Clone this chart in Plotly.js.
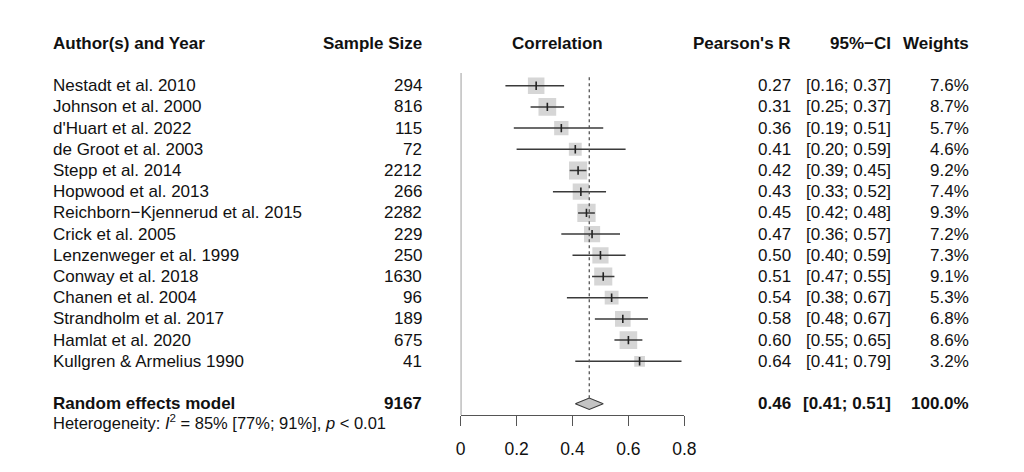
<!DOCTYPE html>
<html>
<head>
<meta charset="utf-8">
<script src="https://cdn.plot.ly/plotly-3.0.1.min.js"></script>
<style>html,body{margin:0;padding:0;background:#fff;} #chart{width:1024px;height:472px;}</style>
</head>
<body>
<div id="chart"></div>
<script>
// ---- data ----
const authors = ["Nestadt et al. 2010","Johnson et al. 2000","d'Huart et al. 2022","de Groot et al. 2003","Stepp et al. 2014","Hopwood et al. 2013","Reichborn\u2212Kjennerud et al. 2015","Crick et al. 2005","Lenzenweger et al. 1999","Conway et al. 2018","Chanen et al. 2004","Strandholm et al. 2017","Hamlat et al. 2020","Kullgren & Armelius 1990"];
const sampleSize = [294, 816, 115, 72, 2212, 266, 2282, 229, 250, 1630, 96, 189, 675, 41];
const pearsonR = [0.27, 0.31, 0.36, 0.41, 0.42, 0.43, 0.45, 0.47, 0.50, 0.51, 0.54, 0.58, 0.60, 0.64];
const ciLower = [0.16, 0.25, 0.19, 0.20, 0.39, 0.33, 0.42, 0.36, 0.40, 0.47, 0.38, 0.48, 0.55, 0.41];
const ciUpper = [0.37, 0.37, 0.51, 0.59, 0.45, 0.52, 0.48, 0.57, 0.59, 0.55, 0.67, 0.67, 0.65, 0.79];
const weights = [7.6, 8.7, 5.7, 4.6, 9.2, 7.4, 9.3, 7.2, 7.3, 9.1, 5.3, 6.8, 8.6, 3.2];
const pooledN = 9167;
const pooledR = 0.46;
const pooledLower = 0.41;
const pooledUpper = 0.51;
const pooledWeight = "100.0%";
const heterogeneity = "Heterogeneity: <i>I</i><sup>2</sup> = 85% [77%; 91%], <i>p</i> < 0.01";
const tickVals = [0, 0.2, 0.4, 0.6, 0.8];
const tickText = ["0", "0.2", "0.4", "0.6", "0.8"];

// ---- layout helpers ----
const W = 1024, H = 472;
const rows = authors.map((_, i) => i + 1);
const pooledRow = 16, headerRow = -1, hetRow = 16.85;
const FONT = "Liberation Sans, Arial, Helvetica, sans-serif";
const TXT = "#111";
const px = v => v / W;

// squares
const squares = {
  type: "scatter", mode: "markers", x: pearsonR, y: rows, hoverinfo: "skip",
  marker: {symbol: "square", color: "#C4C4C4", size: weights.map(w => 6.0 * Math.sqrt(w)), line: {width: 0}}
};
// CI lines
const cx = [], cy = [];
rows.forEach((r, i) => { cx.push(ciLower[i], ciUpper[i], null); cy.push(r, r, null); });
const ciLines = {type: "scatter", mode: "lines", x: cx, y: cy, hoverinfo: "skip",
  line: {color: "#3a3a3a", width: 1.5}};
// estimate ticks
const estTicks = {type: "scatter", mode: "markers", x: pearsonR, y: rows, hoverinfo: "skip",
  marker: {symbol: "line-ns", size: 6, color: "#222", line: {color: "#222", width: 1.6}}};
// diamond
const dh = 0.27;
const diamond = {type: "scatter", mode: "lines", hoverinfo: "skip",
  x: [pooledLower, pooledR, pooledUpper, pooledR, pooledLower],
  y: [pooledRow, pooledRow - dh, pooledRow, pooledRow + dh, pooledRow],
  fill: "toself", fillcolor: "#C4C4C4", line: {color: "#3a3a3a", width: 1.1}};

const ann = [];
function addText(text, xpx, row, anchor, opts = {}) {
  ann.push(Object.assign({
    text: text, xref: "paper", yref: "y", x: px(xpx), y: row,
    xanchor: anchor, yanchor: "middle", showarrow: false,
    font: {family: FONT, size: 17, color: TXT}
  }, opts));
}
const bold = s => "<b>" + s + "</b>";
// headers
addText(bold("Author(s) and Year"), 51, headerRow, "left");
addText(bold("Sample Size"), 424, headerRow, "right");
addText(bold("Correlation"), 557.5, headerRow, "center");
addText(bold("Pearson's R"), 793, headerRow, "right");
addText(bold("95%\u2212CI"), 893, headerRow, "right");
addText(bold("Weights"), 971, headerRow, "right");
// study rows
authors.forEach((a, i) => {
  const r = rows[i];
  addText(a, 51, r, "left");
  addText(String(sampleSize[i]), 424, r, "right");
  addText(pearsonR[i].toFixed(2), 793, r, "right");
  addText("[" + ciLower[i].toFixed(2) + "; " + ciUpper[i].toFixed(2) + "]", 893, r, "right");
  addText(weights[i].toFixed(1) + "%", 971, r, "right");
});
// pooled row
addText(bold("Random effects model"), 51, pooledRow, "left");
addText(bold(String(pooledN)), 424, pooledRow, "right");
addText(bold(pooledR.toFixed(2)), 793, pooledRow, "right");
addText(bold("[" + pooledLower.toFixed(2) + "; " + pooledUpper.toFixed(2) + "]"), 893, pooledRow, "right");
addText(bold(pooledWeight), 971, pooledRow, "right");
addText(heterogeneity, 51, hetRow, "left", {font: {family: FONT, size: 16.5, color: TXT}});

// y mapping: row 1 at 85.7px, step 21.2px
const y0px = 85.7, step = 21.2;
const yTop = 1 - y0px / step;
const yBot = 1 + (H - y0px) / step;
const axisPx = 415;

const layout = {
  width: W, height: H, margin: {l: 0, r: 0, t: 0, b: 0, pad: 0},
  paper_bgcolor: "#fff", plot_bgcolor: "#fff", showlegend: false,
  font: {family: FONT, size: 17, color: TXT},
  xaxis: {domain: [460.7 / W, 684.3 / W], range: [0, 0.8], anchor: "free", position: (H - axisPx) / H,
    showline: true, linecolor: "#555", linewidth: 1.2, ticks: "outside", ticklen: 10, tickwidth: 1.2,
    tickcolor: "#555", tickvals: tickVals, ticktext: tickText, showgrid: false, zeroline: false,
    ticklabelstandoff: 8,
    tickfont: {family: FONT, size: 17.5, color: TXT}, fixedrange: true},
  yaxis: {domain: [0, 1], range: [yBot, yTop], visible: false, showgrid: false, zeroline: false, fixedrange: true},
  shapes: [
    {type: "line", xref: "x", yref: "paper", x0: 0, x1: 0, y0: (H - axisPx) / H, y1: (H - 73) / H,
      line: {color: "#666", width: 1.3}},
    {type: "line", xref: "x", yref: "y", x0: pooledR, x1: pooledR, y0: 0.6, y1: pooledRow - dh,
      line: {color: "#555", width: 1.3, dash: "dot"}}
  ],
  annotations: ann
};

Plotly.newPlot("chart", [squares, ciLines, estTicks, diamond], layout, {staticPlot: true, displayModeBar: false});
</script>
</body>
</html>
